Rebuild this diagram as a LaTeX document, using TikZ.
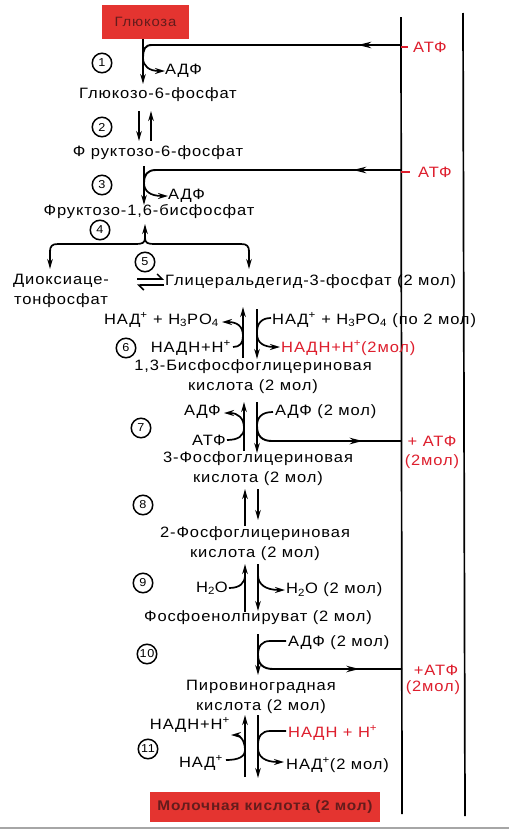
\documentclass[tikz,border=0pt]{standalone}
\usepackage{fontspec}
\setmainfont{Liberation Sans}[FakeStretch=1.1, LetterSpace=6]
\usetikzlibrary{arrows.meta,decorations.markings}
\definecolor{boxred}{RGB}{228,52,48}
\definecolor{txtred}{RGB}{222,30,45}
\definecolor{boxtxt}{RGB}{100,28,28}
\tikzset{
  lbl/.style={inner sep=0pt, font=\fontsize{15}{20}\selectfont, align=center},
  rlbl/.style={lbl, text=txtred},
  num/.style={circle, draw, line width=1.5pt, minimum size=19.5pt, inner sep=0pt, font=\fontsize{11.5}{12}\selectfont},
  mainarr/.style={line width=1.9pt, -{Stealth[length=10pt,width=5.5pt]}},
  sideln/.style={line width=1.7pt},
  sidearr/.style={line width=1.7pt, -{Stealth[length=10pt,width=6pt]}},
  midarr/.style={line width=1.9pt, postaction={decorate}, decoration={markings, mark=at position #1 with {\arrow{Stealth[length=13pt,width=6.5pt]}}}},
  bar/.style={line width=1.7pt},
  redbox/.style={fill=boxred, inner sep=0pt, text=boxtxt},
  harpR/.style={line width=1.5pt, -{Straight Barb[harpoon,length=5pt]}},
}
\begin{document}
\begin{tikzpicture}[x=1pt,y=-1pt]
\useasboundingbox (0,0) rectangle (509,830);
\fill[white] (0,0) rectangle (509,830);
% right bars
\coordinate (b1t) at (401,17); \coordinate (b1b) at (402,814);
\coordinate (b2t) at (463,13); \coordinate (b2b) at (465,816);
\draw[bar] (b1t) -- (b1b);
\draw[bar] (b2t) -- (b2b);
\draw[gray!70, line width=1.5pt] (0,828) -- (509,828);

% main compounds
\node[redbox, minimum width=87pt, minimum height=34pt, font=\fontsize{13.5}{15}\selectfont] (glc) at (145.5,22) {Глюкоза};
\node[lbl] (g6p) at (158,95) {Глюкозо-6-фосфат};
\node[lbl] (f6p) at (158,153) {Ф руктозо-6-фосфат};
\node[lbl] (f16) at (149,212) {Фруктозо-1,6-бисфосфат};
\node[lbl] (dhap) at (61,291) {Диоксиаце-\\тонфосфат};
\node[lbl, anchor=west] (gap) at (165,282) {Глицеральдегид-3-фосфат (2 мол)};
\node[lbl] (bpg) at (253,377) {1,3-Бисфосфоглицериновая\\кислота (2 мол)};
\node[lbl] (pg3) at (258,469) {3-Фосфоглицериновая\\кислота (2 мол)};
\node[lbl] (pg2) at (255,544) {2-Фосфоглицериновая\\кислота (2 мол)};
\node[lbl] (pep) at (258,618) {Фосфоенолпируват (2 мол)};
\node[lbl] (pyr) at (261,697) {Пировиноградная\\кислота (2 мол)};
\node[redbox, minimum width=230pt, minimum height=30pt, font=\fontsize{14}{15}\selectfont\bfseries] (lac) at (265,807) {Молочная кислота (2 мол)};

% step numbers
\node[num] (c1) at (102,63) {1};
\node[num] (c2) at (102,127) {2};
\node[num] (c3) at (102,185) {3};
\node[num] (c4) at (100,230) {4};
\node[num] (c5) at (145,262) {5};
\node[num] (c6) at (126,348) {6};
\node[num] (c7) at (141,428) {7};
\node[num] (c8) at (143,505) {8};
\node[num] (c9) at (143,583) {9};
\node[num] (c10) at (147,654) {10};
\node[num] (c11) at (148,749) {11};

% step 1
\node[rlbl, anchor=west] (atp1) at (413,47) {АТФ};
\draw[txtred, line width=1.4pt] (b1t |- atp1) ++(0,0) -- (408,47);
\node[lbl, anchor=west] (adp1) at (165,71) {АДФ};
\coordinate (j1) at (143,58);
\draw[mainarr] (glc.south -| j1) -- (143,84);
\draw[midarr=0.16] (401,45) -- (152,45) .. controls (145,45) and (143,49) .. (j1);
\draw[sidearr] (j1) .. controls (143,66) and (149,71) .. (adp1.west);

% step 2
\draw[mainarr] (139,111) -- (139,141);
\draw[mainarr] (151,141) -- (151,111);

% step 3
\node[rlbl, anchor=west] (atp3) at (418,172) {АТФ};
\draw[txtred, line width=1.4pt] (401,172) -- (410,172);
\node[lbl, anchor=west] (adp3) at (168,196) {АДФ};
\coordinate (j3) at (144,183);
\draw[mainarr] (144,166) -- (144,205);
\draw[midarr=0.18] (401,170) -- (156,170) .. controls (147,170) and (144,175) .. (j3);
\draw[sidearr] (j3) .. controls (144,191) and (150,196) .. (adp3.west);

% step 4
\draw[mainarr] (145,240) -- (145,224);
\draw[sideln] (50,252) .. controls (50,246) and (52,244) .. (58,244) -- (136,244)
  .. controls (142,244) and (145,243) .. (145,238)
  .. controls (145,243) and (148,244) .. (154,244) -- (241,244)
  .. controls (247,244) and (249,246) .. (249,252);
\draw[mainarr] (50,250) -- (50,269);
\draw[mainarr] (249,250) -- (249,269);

% step 5
\draw[harpR] (137,279) -- (164,279);
\draw[harpR] (164,285) -- (137,285);

% step 6
\node[lbl, anchor=east] (nad6l) at (219,320) {НАД\textsuperscript{+} + H\textsubscript{3}PO\textsubscript{4}};
\node[lbl, anchor=east] (nadh6l) at (231,348) {НАДН+Н\textsuperscript{+}};
\node[lbl, anchor=west] (nad6r) at (272,320) {НАД\textsuperscript{+} + H\textsubscript{3}PO\textsubscript{4} (по 2 мол)};
\node[rlbl, anchor=west] (nadh6r) at (281,348) {НАДН+Н\textsuperscript{+}(2мол)};
\draw[mainarr] (243,358) -- (243,307);
\draw[mainarr] (257,309) -- (257,359);
\draw[sidearr] (243,336) .. controls (243,326) and (237,322) .. (222,322);
\draw[sideln] (233,347) .. controls (240,347) and (243,343) .. (243,336);
\draw[sideln] (271,318) .. controls (262,318) and (257,323) .. (257,332);
\draw[sidearr] (257,334) .. controls (257,343) and (264,347) .. (280,347);

% step 7
\node[lbl, anchor=east] (adp7l) at (221,412) {АДФ};
\node[lbl, anchor=east] (atp7l) at (226,440) {АТФ};
\node[lbl, anchor=west] (adp7r) at (275,412) {АДФ (2 мол)};
\node[rlbl] (atp7) at (432,441) {+ АТФ};
\node[rlbl] (atp7m) at (432,462) {(2мол)};
\draw[mainarr] (244,451) -- (244,402);
\draw[mainarr] (257,402) -- (257,453);
\draw[sidearr] (244,428) .. controls (244,418) and (238,413) .. (224,413);
\draw[sideln] (227,440) .. controls (238,440) and (244,436) .. (244,428);
\draw[sideln] (273,412) .. controls (262,412) and (257,417) .. (257,426);
\draw[midarr=0.75] (257,426) .. controls (257,436) and (262,441) .. (272,441) -- (401,441);

% step 8
\draw[mainarr] (245,526) -- (245,489);
\draw[mainarr] (258,489) -- (258,520);

% step 9
\node[lbl, anchor=east] (h2ol) at (228,588) {H\textsubscript{2}O};
\node[lbl, anchor=west] (h2or) at (286,590) {H\textsubscript{2}O (2 мол)};
\draw[mainarr] (245,612) -- (245,564);
\draw[mainarr] (258,564) -- (258,611);
\draw[sideln] (229,588) .. controls (240,588) and (245,583) .. (245,575);
\draw[sidearr] (258,575) .. controls (258,584) and (265,590) .. (285,590);

% step 10
\node[lbl, anchor=west] (adp10) at (288,643) {АДФ (2 мол)};
\node[rlbl] (atp10) at (436,670) {+АТФ};
\node[rlbl] (atp10m) at (433,688) {(2мол)};
\draw[mainarr] (258,634) -- (258,675);
\draw[sideln] (286,641) -- (270,641) .. controls (262,641) and (258,646) .. (258,655);
\draw[midarr=0.72] (258,655) .. controls (258,664) and (263,669) .. (273,669) -- (402,669);

% step 11
\node[lbl, anchor=east] (nadh11l) at (230,725) {НАДН+Н\textsuperscript{+}};
\node[lbl, anchor=east] (nad11l) at (223,763) {НАД\textsuperscript{+}};
\node[rlbl, anchor=west] (nadh11r) at (288,733) {НАДН + Н\textsuperscript{+}};
\node[lbl, anchor=west] (nad11r) at (286,765) {НАД\textsuperscript{+}(2 мол)};
\draw[mainarr] (245,777) -- (245,715);
\draw[mainarr] (258,715) -- (258,778);
\draw[sidearr] (245,750) .. controls (245,741) and (240,735) .. (231,735);
\draw[sideln] (226,760) .. controls (238,760) and (245,757) .. (245,750);
\draw[sideln] (286,731) -- (270,731) .. controls (262,731) and (258,736) .. (258,745);
\draw[sidearr] (258,748) .. controls (258,757) and (265,762) .. (284,762);
\end{tikzpicture}
\end{document}
